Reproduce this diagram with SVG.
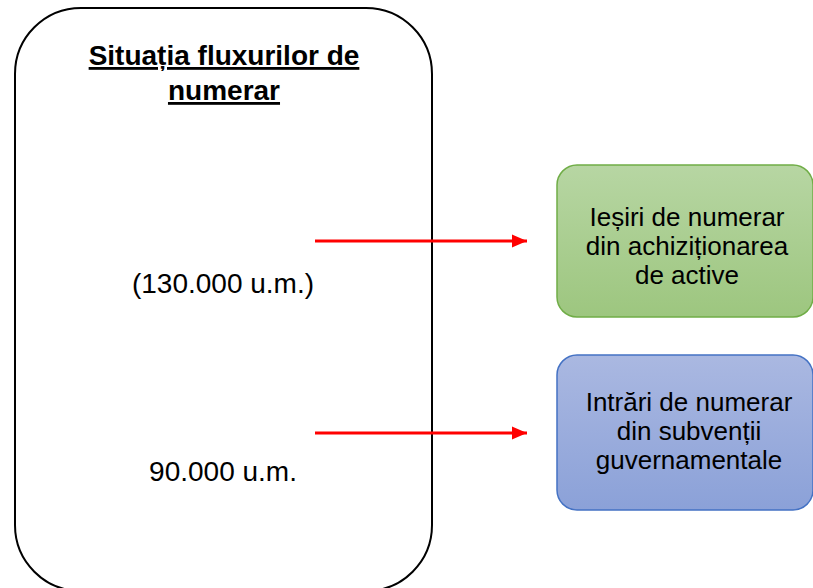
<svg xmlns="http://www.w3.org/2000/svg" width="813" height="588" viewBox="0 0 813 588">
<style>
.t{font-family:"Liberation Sans",Arial,sans-serif;fill:#000;text-anchor:middle}
.box{font-size:26px}
.mid{font-size:28px}
.title{font-size:28px;font-weight:bold;text-decoration:underline}
.arrow{stroke:#ff0000;stroke-width:3;fill:none}
</style>
<defs>
<linearGradient id="gG" x1="0" y1="0" x2="0" y2="1"><stop offset="0" stop-color="#b7d6a3"/><stop offset="1" stop-color="#9dc67f"/></linearGradient>
<linearGradient id="gB" x1="0" y1="0" x2="0" y2="1"><stop offset="0" stop-color="#aab8e1"/><stop offset="1" stop-color="#8ba1d8"/></linearGradient>
<marker id="ah" markerWidth="15" markerHeight="14" refX="15" refY="6.5" orient="auto" markerUnits="userSpaceOnUse" viewBox="0 0 15 13"><path d="M0,0 L15,6.5 L0,13 Z" fill="#ff0000"/></marker>
</defs>
<g id="main">
<rect x="15" y="8" width="417" height="583" rx="66" ry="66" fill="#fff" stroke="#000" stroke-width="2"/>
<text class="t title" x="224" y="65">Situația fluxurilor de</text>
<text class="t title" x="224" y="100">numerar</text>
<text class="t mid" x="223" y="293">(130.000 u.m.)</text>
<text class="t mid" x="223" y="481">90.000 u.m.</text>
</g>
<g id="iesiri">
<rect x="557" y="165" width="256" height="152" rx="20" ry="20" fill="url(#gG)" stroke="#70ad47" stroke-width="1.5"/>
<text class="t box" x="687" y="226">Ieșiri de numerar</text>
<text class="t box" x="687" y="255">din achiziționarea</text>
<text class="t box" x="687" y="284">de active</text>
</g>
<g id="intrari">
<rect x="557" y="355" width="256" height="155" rx="20" ry="20" fill="url(#gB)" stroke="#4472c4" stroke-width="1.5"/>
<text class="t box" x="689" y="411">Intrări de numerar</text>
<text class="t box" x="689" y="440">din subvenții</text>
<text class="t box" x="689" y="469">guvernamentale</text>
</g>
<g id="connectors">
<line class="arrow" x1="315" y1="241" x2="527" y2="241" marker-end="url(#ah)"/>
<line class="arrow" x1="315" y1="433" x2="527" y2="433" marker-end="url(#ah)"/>
</g>
</svg>
